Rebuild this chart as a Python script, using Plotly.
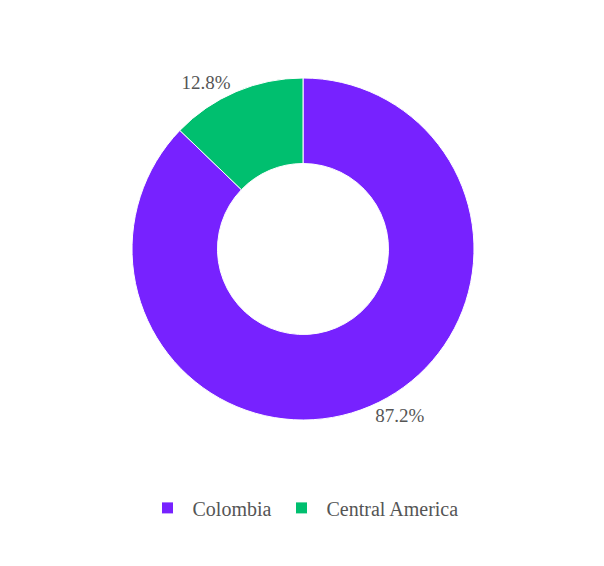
import plotly.graph_objects as go

labels = ["Colombia", "Central America"]
values = [87.2, 12.8]
colors = ["#7722FF", "#00BF6F"]

fig = go.Figure(go.Pie(
    labels=labels, values=values, hole=0.5, sort=False, direction="clockwise",
    marker=dict(colors=colors, line=dict(color="white", width=1)),
    textinfo="percent", textposition="outside", texttemplate="%{percent:.1%}",
    textfont=dict(family="Liberation Serif", size=19, color="#555"),
))
fig.update_layout(
    width=604, height=566, paper_bgcolor="white",
    margin=dict(t=70, b=154, l=42, r=78),
    font=dict(family="Liberation Serif", size=20, color="#555"),
    legend=dict(orientation="h", x=0.5, xanchor="center", y=-0.2, yanchor="top",
                font=dict(size=20), itemwidth=40, tracegroupgap=30),
)
fig.write_html("out.html")
